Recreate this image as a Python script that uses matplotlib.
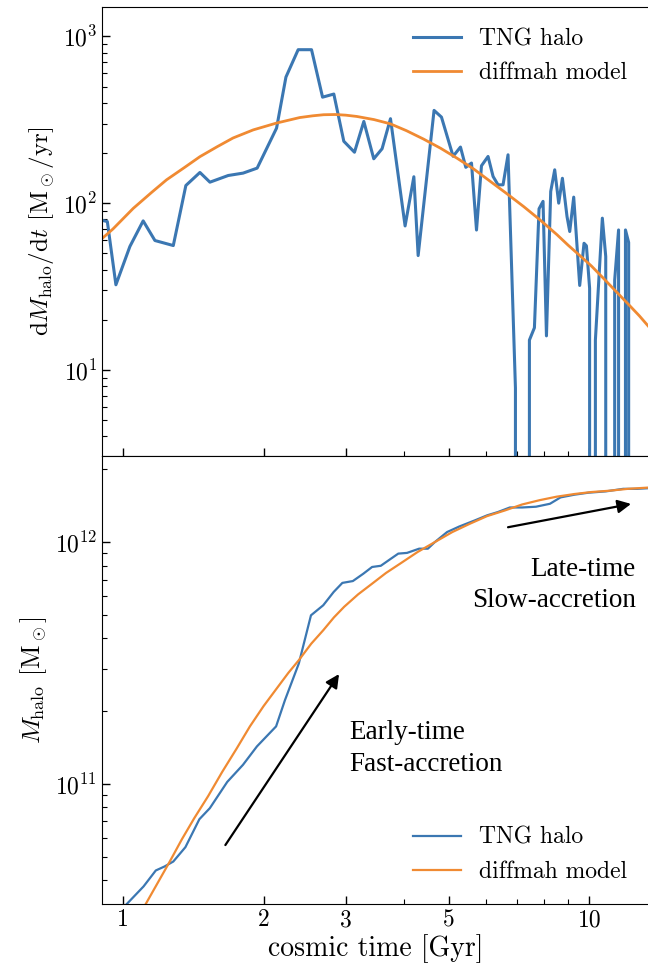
import numpy as np
import matplotlib
matplotlib.use("Agg")
import matplotlib.pyplot as plt
from matplotlib.ticker import FixedLocator, NullFormatter, FixedFormatter

plt.rcParams['font.family'] = 'serif'
plt.rcParams['font.serif'] = ['cmr10']
plt.rcParams['mathtext.fontset'] = 'cm'
plt.rcParams['axes.formatter.use_mathtext'] = True
plt.rcParams['axes.unicode_minus'] = False

# --- top panel: accretion rate [Msun/yr] vs cosmic time [Gyr] ---
t_rate = [0.88, 0.924, 0.964, 1.033, 1.103, 1.169, 1.280, 1.362, 1.460, 1.534,
          1.679, 1.807, 1.937, 2.132, 2.233, 2.372, 2.534, 2.676, 2.829, 2.972,
          3.133, 3.281, 3.446, 3.591, 3.743, 4.023, 4.201, 4.291, 4.642, 4.815,
          5.100, 5.289, 5.430, 5.585, 5.725, 5.867, 6.061, 6.213, 6.368, 6.527,
          6.690, 6.939, 7.123, 7.283, 7.435, 7.621, 7.797, 7.953, 8.088, 8.260,
          8.425, 8.593, 8.751, 8.953, 9.074, 9.254, 9.532, 9.737, 9.854, 10.01,
          10.16, 10.30, 10.66, 10.84, 11.08, 11.33, 11.55, 11.68, 11.80, 11.95,
          12.14, 12.32, 12.55, 12.80, 13.05, 13.35]
tng_rate = [80, 77.6, 32.4, 55, 78.3, 59.7, 55.7, 127.6, 152.8, 133.6,
            146.5, 151.4, 162.2, 281.8, 570, 832, 832, 432, 451, 235,
            202, 309, 184.5, 212, 321, 73, 144, 48.5, 360, 328,
            191, 217, 164, 174, 69, 167.5, 190.6, 144.6, 128.8, 128.8,
            195, 7.8, 0, 0, 15.1, 17.9, 92.5, 102.5, 16.0, 117.5,
            158.5, 100, 141, 83.1, 67.6, 108.7, 32.1, 57.5, 55.5, 30.9,
            0, 15.1, 81.3, 47.9, 0, 34.6, 69.1, 0, 0, 69.1,
            58.1, 0, 0, 0, 0, 0]

t_model_rate = [0.88, 0.95, 1.05, 1.15, 1.238, 1.35, 1.46, 1.59, 1.72, 1.90,
                2.13, 2.39, 2.55, 2.69, 2.85, 3.0, 3.17, 3.45, 3.74, 4.05,
                4.41, 4.80, 5.20, 5.65, 6.13, 6.65, 7.23, 7.85, 8.52, 9.0,
                9.53, 10.1, 10.7, 11.4, 12.2, 12.8, 13.4]
model_rate = [58, 70, 93, 116, 138, 163, 190, 218, 246, 275,
              302, 326, 334, 339, 340, 337, 331, 317, 299, 272,
              242, 213, 186, 160, 135, 114, 95.3, 79, 64.7, 56,
              48.6, 42, 35.6, 29.6, 24.3, 21.1, 18.2]

# --- bottom panel: halo mass [Msun] vs cosmic time [Gyr] ---
t_mass = [0.92, 1.014, 1.105, 1.174, 1.226, 1.280, 1.359, 1.456, 1.533, 1.671,
          1.806, 1.935, 2.127, 2.222, 2.380, 2.527, 2.685, 2.827, 2.951, 3.108,
          3.273, 3.418, 3.568, 3.726, 3.890, 4.061, 4.312, 4.502, 4.660, 4.950,
          5.259, 5.683, 6.035, 6.357, 6.75, 7.17, 7.68, 8.23, 8.67, 9.29,
          9.95, 10.84, 11.82, 12.66, 13.4]
tng_mass = [2.7e10, 3.17e10, 3.77e10, 4.39e10, 4.56e10, 4.78e10, 5.48e10, 7.15e10, 7.94e10, 1.02e11,
            1.20e11, 1.43e11, 1.73e11, 2.22e11, 3.15e11, 4.98e11, 5.48e11, 6.22e11, 6.78e11, 6.90e11,
            7.40e11, 7.89e11, 7.98e11, 8.46e11, 8.96e11, 9.02e11, 9.39e11, 9.39e11, 1.0e12, 1.10e12,
            1.16e12, 1.23e12, 1.29e12, 1.33e12, 1.39e12, 1.39e12, 1.40e12, 1.44e12, 1.53e12, 1.57e12,
            1.60e12, 1.62e12, 1.66e12, 1.66e12, 1.67e12]

t_model_mass = [1.0, 1.05, 1.115, 1.185, 1.258, 1.335, 1.419, 1.52, 1.629, 1.75,
                1.869, 2.0, 2.146, 2.26, 2.380, 2.53, 2.685, 2.83, 2.977, 3.19,
                3.418, 3.66, 3.924, 4.28, 4.660, 5.08, 5.537, 6.03, 6.578, 7.17,
                7.82, 8.5, 9.29, 10.1, 11.03, 12.1, 13.4]
model_mass = [2.2e10, 2.6e10, 3.17e10, 3.9e10, 4.78e10, 5.9e10, 7.21e10, 8.9e10, 1.12e11, 1.40e11,
              1.73e11, 2.10e11, 2.52e11, 2.88e11, 3.25e11, 3.80e11, 4.32e11, 4.88e11, 5.40e11, 6.08e11,
              6.73e11, 7.45e11, 8.14e11, 9.1e11, 1.0e12, 1.10e12, 1.19e12, 1.28e12, 1.35e12, 1.43e12,
              1.49e12, 1.54e12, 1.58e12, 1.61e12, 1.63e12, 1.66e12, 1.68e12]

blue = '#3b77b2'
orange = '#f08a32'

fig = plt.figure(figsize=(6.48, 9.73), dpi=100)
ax1 = fig.add_axes([0.1574, 0.5314, 0.8436, 0.4614])
ax2 = fig.add_axes([0.1574, 0.0709, 0.8436, 0.4605])

ax1.plot(t_rate, tng_rate, color=blue, lw=2.2, label='TNG halo')
ax1.plot(t_model_rate, model_rate, color=orange, lw=2.0, label='diffmah model')
ax2.plot(t_mass, tng_mass, color=blue, lw=1.6, label='TNG halo')
ax2.plot(t_model_mass, model_mass, color=orange, lw=1.6, label='diffmah model')

for ax in (ax1, ax2):
    ax.set_xscale('log')
    ax.set_yscale('log')
    ax.set_xlim(0.9, 13.4)
    ax.xaxis.set_major_locator(FixedLocator([1, 2, 3, 5, 10]))
    ax.xaxis.set_minor_locator(FixedLocator([4, 6, 7, 8, 9]))
    ax.xaxis.set_minor_formatter(NullFormatter())
    ax.tick_params(which='both', direction='in', labelsize=17)
    ax.tick_params(which='major', length=6, width=1)
    ax.tick_params(which='minor', length=3.5, width=0.8)
    ax.legend(fontsize=17, frameon=False,
              loc='upper right' if ax is ax1 else 'lower right')

ax1.set_ylim(3.05, 1500)
ax2.set_ylim(3.19e10, 2.27e12)
ax1.tick_params(axis='x', labelbottom=False)
ax2.xaxis.set_major_formatter(FixedFormatter(['1', '2', '3', '5', '10']))

ax1.set_ylabel(r'${\rm d}M_{\rm halo}/{\rm d}t$ [M$_\odot$/yr]', fontsize=18)
ax2.set_ylabel(r'$M_{\rm halo}$ [M$_\odot$]', fontsize=18.5)
ax2.set_xlabel('cosmic time [Gyr]', fontsize=20, labelpad=2)

ax2.annotate('', xy=(2.925, 2.91e11), xytext=(1.643, 5.47e10),
             arrowprops=dict(arrowstyle='-|>', color='k', lw=1.6, mutation_scale=20))
ax2.annotate('', xy=(12.45, 1.445e12), xytext=(6.60, 1.146e12),
             arrowprops=dict(arrowstyle='-|>', color='k', lw=1.6, mutation_scale=20))
ax2.text(3.055, 1.40e11, 'Early-time\nFast-accretion', fontsize=19.5,
         family='Liberation Serif', ha='left', va='center', linespacing=1.35)
ax2.text(12.56, 6.64e11, 'Late-time\nSlow-accretion', fontsize=19.5,
         family='Liberation Serif', ha='right', va='center', multialignment='right',
         linespacing=1.35)

fig.savefig('out.png', dpi=100)
